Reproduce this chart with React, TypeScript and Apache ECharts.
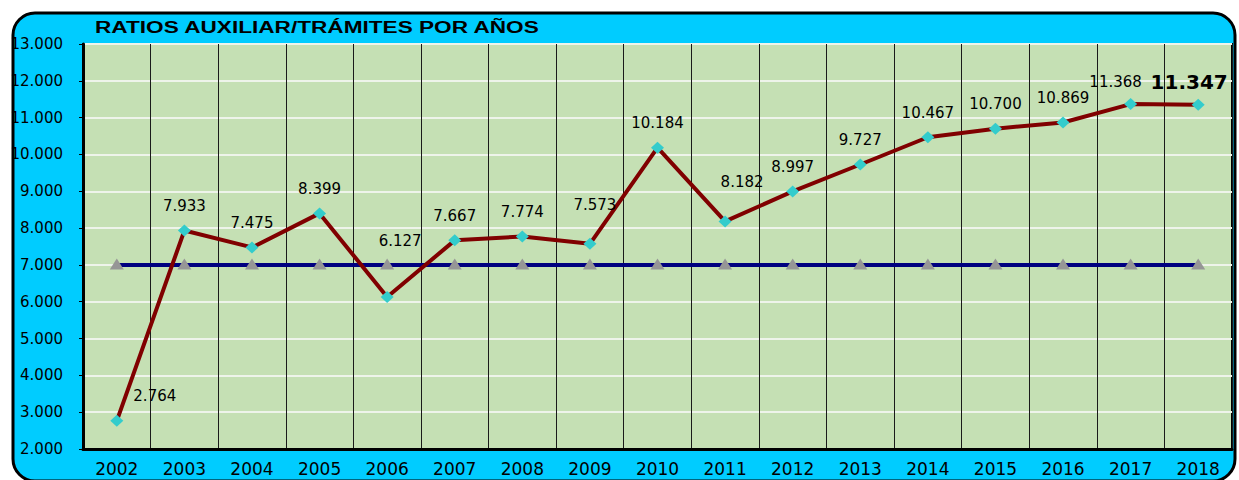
import { useEffect, useRef } from 'react';
import * as echarts from 'echarts';

const title = 'RATIOS AUXILIAR/TRÁMITES POR AÑOS';
const years = ['2002', '2003', '2004', '2005', '2006', '2007', '2008', '2009', '2010', '2011', '2012', '2013', '2014', '2015', '2016', '2017', '2018'];
const ratios = [2764, 7933, 7475, 8399, 6127, 7667, 7774, 7573, 10184, 8182, 8997, 9727, 10467, 10700, 10869, 11368, 11347];
const referenceValue = 7000;
const referenceLine = years.map(() => referenceValue);
const yMin = 2000;
const yMax = 13000;
const yStep = 1000;

// label nudges (pixels) for some points, keyed by year
const labelOffsets: Record<string, [number, number]> = {
  '2002': [38, 0],
  '2006': [13, -32],
  '2009': [5, -14],
  '2011': [17, -15],
  '2017': [-15, 2],
  '2018': [-9, 4],
};
const highlightedYear = '2018';

const fmt = (v: number) => (v / 1000).toFixed(3);

export default function App() {
  const ref = useRef<HTMLDivElement>(null);
  useEffect(() => {
    document.body.style.margin = '0';
    const chart = echarts.init(ref.current!, null, { renderer: 'svg' });
    const font = 'DejaVu Sans';
    const redData = ratios.map((v, i) => {
      const y = years[i];
      const item: any = { value: v };
      const label: any = {};
      if (labelOffsets[y]) label.offset = labelOffsets[y];
      if (y === highlightedYear) {
        label.fontSize = 20;
        label.fontWeight = 'bold';
      }
      item.label = label;
      return item;
    });
    chart.setOption({
      animation: false,
      backgroundColor: '#ffffff',
      graphic: [
        {
          type: 'rect',
          z: -100,
          shape: { x: 13, y: 13, width: 1222, height: 468, r: 22 },
          style: { fill: '#00CCFF', stroke: '#000000', lineWidth: 3 },
        },
        {
          type: 'text',
          z: 100,
          x: 95,
          y: 27,
          scaleX: 1.33,
          style: {
            text: title,
            x: 0,
            y: 0,
            fill: '#000000',
            font: 'bold 17px "Liberation Sans", Arial, sans-serif',
            verticalAlign: 'middle',
            align: 'left',
          },
        },
      ],
      grid: {
        left: 83,
        right: 7,
        top: 44,
        bottom: 31,
        show: true,
        backgroundColor: '#C5E0B4',
        borderColor: '#000000',
        borderWidth: 2,
      },
      xAxis: {
        type: 'category',
        data: years,
        boundaryGap: true,
        axisLine: { show: true, lineStyle: { color: '#000000', width: 3 } },
        axisTick: { show: false },
        splitLine: { show: true, lineStyle: { color: '#1a1a1a', width: 1 } },
        axisLabel: { color: '#000000', fontFamily: font, fontSize: 17, margin: 11 },
      },
      yAxis: {
        type: 'value',
        min: yMin,
        max: yMax,
        interval: yStep,
        axisLine: { show: true, lineStyle: { color: '#000000', width: 3 } },
        axisTick: { show: true, length: 4, inside: false, lineStyle: { color: '#000000', width: 1 } },
        splitLine: { show: true, lineStyle: { color: '#EEF4EA', width: 2 } },
        axisLabel: { color: '#000000', fontFamily: font, fontSize: 15, margin: 20, formatter: (v: number) => fmt(v) },
      },
      series: [
        {
          type: 'line',
          data: referenceLine,
          symbol: 'triangle',
          symbolSize: [14, 11],
          symbolOffset: [0, -1],
          itemStyle: { color: '#969696' },
          lineStyle: { color: '#000080', width: 4 },
          z: 2,
        },
        {
          type: 'line',
          data: redData,
          symbol: 'diamond',
          symbolSize: [13, 12],
          itemStyle: { color: '#33CCCC' },
          lineStyle: { color: '#800000', width: 4 },
          z: 3,
          label: {
            show: true,
            position: 'top',
            distance: 11,
            color: '#000000',
            fontFamily: font,
            fontSize: 15,
            formatter: (p: any) => fmt(p.value),
          },
        },
      ],
    });
    return () => chart.dispose();
  }, []);
  return <div ref={ref} style={{ width: 1239, height: 480 }} />;
}
